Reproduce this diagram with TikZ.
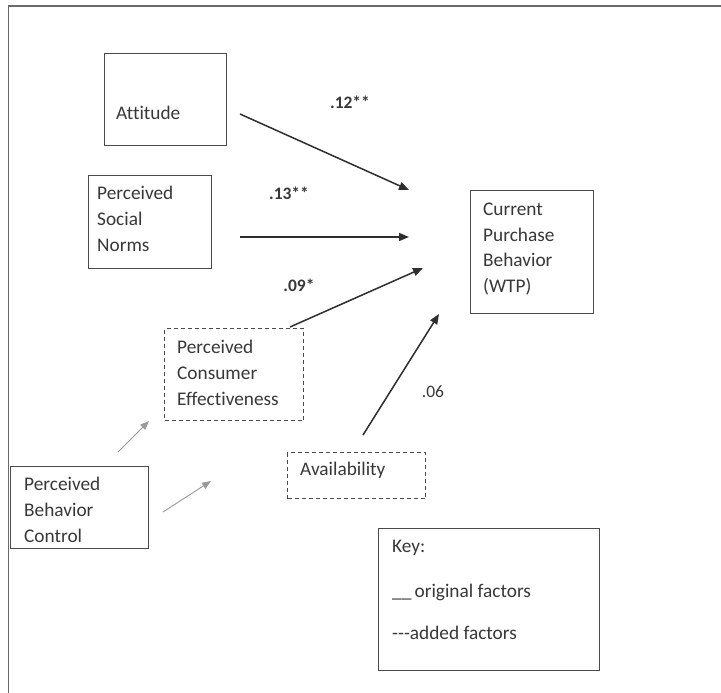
\documentclass[tikz,border=0pt]{standalone}
\usepackage{fontspec}
\setmainfont[Ligatures={NoCommon}]{Carlito}
\usetikzlibrary{arrows.meta}
\definecolor{boxc}{HTML}{4A4A4A}
\definecolor{txtc}{HTML}{383838}
\definecolor{arrc}{HTML}{2E2E2E}
\definecolor{framec}{HTML}{6A6A6A}
\begin{document}
\begin{tikzpicture}[x=1pt,y=-1pt,
  box/.style={draw=boxc, line width=1.4pt, anchor=north west, inner sep=0pt},
  dbox/.style={box, dash pattern=on 4pt off 3pt},
  txt/.style={anchor=west, align=left, text=txtc, font=\fontsize{19.3}{25.8}\selectfont, inner sep=0pt},
  arr/.style={draw=arrc, line width=1.5pt, -{Triangle[length=10pt,width=8pt]}},
  tarr/.style={draw=gray!80, line width=0.9pt, -{Triangle[length=9pt,width=7pt]}},
  lab/.style={text=txtc, font=\fontsize{17.5}{20}\selectfont\bfseries, inner sep=0pt},
  plab/.style={text=txtc, font=\fontsize{17.5}{20}\selectfont, inner sep=0pt}]
\useasboundingbox (0,0) rectangle (721,693);
\fill[white] (0,0) rectangle (721,693);
\draw[framec, line width=1.8pt] (8.5,693) -- (8.5,6) -- (721,6);

% boxes
\node[box, minimum width=122pt, minimum height=92pt] (att) at (104,53) {};
\node[box, minimum width=123pt, minimum height=93pt] (soc) at (88,175) {};
\node[box, minimum width=123pt, minimum height=123pt] (cpb) at (470,190) {};
\node[dbox, minimum width=139pt, minimum height=92pt] (pce) at (164,328) {};
\node[dbox, minimum width=138pt, minimum height=46pt] (ava) at (287,452) {};
\node[box, minimum width=138pt, minimum height=82pt] (pbc) at (10,466) {};
\node[box, minimum width=221pt, minimum height=142pt] (key) at (378,528) {};

% texts
\node[txt] (tatt) at (116,113) {Attitude};
\node[txt] (tsoc) at (97,219) {Perceived\\Social\\Norms};
\node[txt] (tcpb) at (483,249) {Current\\Purchase\\Behavior\\(WTP)};
\node[txt] (tpce) at (177,373) {Perceived\\Consumer\\Effectiveness};
\node[txt] (tava) at (300,470) {Availability};
\node[txt] (tpbc) at (24,510) {Perceived\\Behavior\\Control};
\node[txt] (k1) at (392,548) {Key:};
\node[txt] (k2) at (392,592) {\_\_\,original factors};
\node[txt] (k3) at (392,633) {-{}-{}-added factors};

% labels
\node[lab] (l1) at (350,102) {.12**};
\node[lab] (l2) at (289,193) {.13**};
\node[lab] (l3) at (299,285) {.09*};
\node[plab] (l4) at (433,392) {.06};

% arrow end points
\coordinate (a1s) at (240,114); \coordinate (a1e) at (409,190);
\coordinate (a2s) at (240,237); \coordinate (a2e) at (409,237);
\coordinate (a3s) at (290,327); \coordinate (a3e) at (423,268);
\coordinate (a4s) at (363,435); \coordinate (a4e) at (439,314);
\coordinate (s1s) at (118,452); \coordinate (s1e) at (149,421);
\coordinate (s2s) at (163,512); \coordinate (s2e) at (211,481);

\draw[arr] (a1s) -- (a1e);
\draw[arr] (a2s) -- (a2e);
\draw[arr] (a3s) -- (a3e);
\draw[arr] (a4s) -- (a4e);
\draw[tarr] (s1s) -- (s1e);
\draw[tarr] (s2s) -- (s2e);
\end{tikzpicture}
\end{document}
